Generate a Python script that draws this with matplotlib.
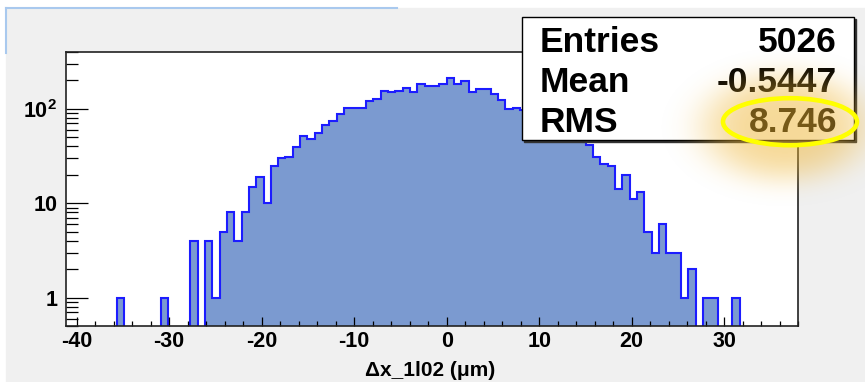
import numpy as np
import matplotlib
matplotlib.use("Agg")
import matplotlib.pyplot as plt
from matplotlib.patches import Rectangle, Ellipse
from matplotlib.ticker import MultipleLocator, LogLocator, NullFormatter

plt.rcParams["font.family"] = ["Liberation Sans", "DejaVu Sans"]
plt.rcParams["font.weight"] = "bold"
plt.rcParams["mathtext.fontset"] = "custom"
plt.rcParams["mathtext.rm"] = "Liberation Sans:bold"
plt.rcParams["mathtext.bf"] = "Liberation Sans:bold"
plt.rcParams["axes.unicode_minus"] = False

# histogram booking: 100 bins
x_lo, x_hi, n_bins = -41.184, 38.016, 100

# bin contents (bins under the stats box are estimates)
counts = [
    0, 0, 0, 0, 0, 0, 0, 1, 0, 0,
    0, 0, 0, 1, 0, 0, 0, 4, 0, 4,
    1, 5, 8, 4, 8, 15, 19, 10, 25, 30,
    31, 39, 51, 48, 56, 67, 75, 88, 101, 101,
    101, 122, 126, 155, 149, 155, 167, 149, 182, 176,
    176, 182, 211, 182, 195, 149, 161, 161, 142, 125,
    100, 103, 98, 92, 87, 79, 73, 65, 60, 54,
    50, 41, 31, 26, 25, 14, 20, 11, 13, 5,
    3, 6, 3, 3, 1, 2, 0, 1, 1, 0,
    0, 1, 0, 0, 0, 0, 0, 0, 0, 0,
]
entries = 5026
mean = -0.5447
rms = 8.746

x_ticks = [-40, -30, -20, -10, 0, 10, 20, 30]
y_ticks = [1, 10, 100]
y_tick_labels = ["1", "10", r"$\mathbf{10^{2}}$"]
x_label = "Δx_1l02 (μm)"

W, H = 865, 382
fig = plt.figure(figsize=(W / 100, H / 100), dpi=100)
fig.patch.set_facecolor("white")

# canvas background (pixel coords)
bg = fig.add_axes([0, 0, 1, 1], zorder=0)
bg.set_xlim(0, W)
bg.set_ylim(H, 0)
bg.axis("off")
bg.add_patch(Rectangle((6, 8), W, H, color="#f0f0f0"))
bg.plot([6, 397], [8, 8], color="#a9c9ee", lw=1.5)
bg.plot([6, 6], [8, 53], color="#a9c9ee", lw=1.5)

ax = fig.add_axes([65.7 / W, 1 - 326 / H, (798.3 - 65.7) / W, (326 - 52) / H], zorder=1)
ax.set_facecolor("white")
edges = np.linspace(x_lo, x_hi, n_bins + 1)
c = np.array(counts, dtype=float)
shown = np.where(c > 0, c, 1e-3)
ax.stairs(shown, edges, baseline=1e-3, fill=True, color="#7b9ad0", lw=0)
ax.stairs(shown, edges, baseline=1e-3, color="#1c1cff", lw=1.5)
ax.set_yscale("log")
ax.set_xlim(x_lo, x_hi)
ax.set_ylim(0.5, 400)

ax.set_xticks(x_ticks, labels=[str(v) for v in x_ticks])
ax.xaxis.set_minor_locator(MultipleLocator(2))
ax.set_yticks(y_ticks, labels=y_tick_labels)
ax.yaxis.set_minor_locator(LogLocator(base=10, subs=range(2, 10)))
ax.yaxis.set_minor_formatter(NullFormatter())
ax.tick_params(axis="x", which="major", direction="in", length=6.5, width=0.9,
               pad=3.5, labelsize=15.5, top=False)
ax.tick_params(axis="x", which="minor", direction="in", length=3.3, width=0.9, top=False)
ax.tick_params(axis="y", which="major", direction="in", length=15.5, width=0.9,
               pad=6, labelsize=15.5, right=False)
ax.tick_params(axis="y", which="minor", direction="in", length=8.5, width=0.9, right=False)
for s in ax.spines.values():
    s.set_linewidth(1.2)
    s.set_color("#222222")

fig.text(430 / W, 1 - 371 / H, x_label, ha="center", va="center", fontsize=15)

# overlay in pixel coords: stats box, glow, ellipse
ov = fig.add_axes([0, 0, 1, 1], zorder=3)
ov.patch.set_alpha(0)
ov.axis("off")

bx0, by0, bx1, by1 = 521.7, 16.7, 854.3, 140
ov.add_patch(Rectangle((bx0 + 2, by0 + 2), bx1 - bx0, by1 - by0, color="#333333", zorder=1))
ov.add_patch(Rectangle((bx0, by0), bx1 - bx0, by1 - by0, fc="white", ec="black", lw=1, zorder=2))
rows = [("Entries", f"{entries}"), ("Mean", f"{mean:.4g}"), ("RMS", f"{rms:.4g}")]
for i, (name, val) in enumerate(rows):
    yb = 51.7 + 40 * i
    ov.text(540, yb, name, ha="left", va="baseline", fontsize=25.5, zorder=3)
    ov.text(837, yb, val, ha="right", va="baseline", fontsize=25.5, zorder=3)

# soft highlight behind the RMS value
xx, yy = np.meshgrid(np.arange(W) + 0.5, np.arange(H) + 0.5)
d = np.sqrt(((xx - 785) / 70) ** 2 + ((yy - 127) / 45) ** 2)
glow = np.zeros((H, W, 4))
glow[..., 0] = 238 / 255
glow[..., 1] = 180 / 255
glow[..., 2] = 50 / 255
glow[..., 3] = 0.5 * np.exp(-0.5 * d ** 4)
ov.imshow(glow, extent=(0, W, H, 0), aspect="auto", interpolation="bilinear", zorder=4)
ov.add_patch(Ellipse((790, 121.7), 134, 47, fill=False, ec="#ffff00", lw=3.3, zorder=5))
ov.set_xlim(0, W)
ov.set_ylim(H, 0)

fig.savefig("out.png", dpi=100)
